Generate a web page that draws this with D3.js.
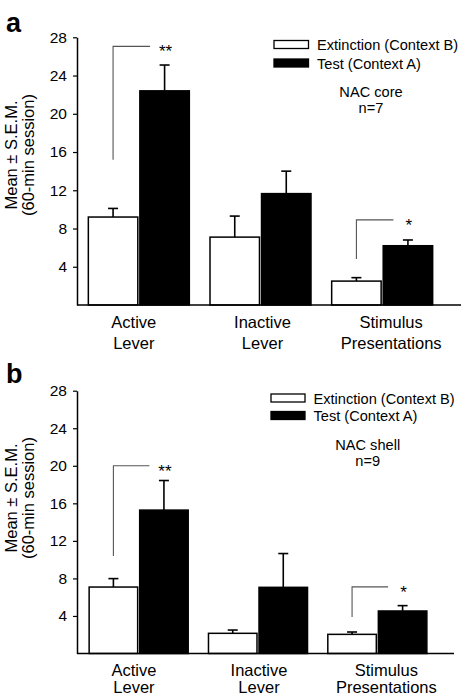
<!DOCTYPE html>
<html>
<head>
<meta charset="utf-8">
<script src="https://cdn.jsdelivr.net/npm/d3@7"></script>
<style>
  html, body { margin: 0; padding: 0; background: #fff; }
  svg { display: block; font-family: "Liberation Sans", Arial, Helvetica, sans-serif; }
</style>
</head>
<body>
<svg id="chart" width="462" height="697"></svg>
<script>
// ---------------- data ----------------
const categories = ["Active Lever", "Inactive Lever", "Stimulus Presentations"];
const categoryLines = [["Active", "Lever"], ["Inactive", "Lever"], ["Stimulus", "Presentations"]];
const seriesNames = ["Extinction (Context B)", "Test (Context A)"];
const yTicks = [4, 8, 12, 16, 20, 24, 28];

// Panel a: NAC core, n=7
const coreExtinction    = [9.2, 7.1, 2.5];
const coreExtinctionSEM = [0.9, 2.2, 0.36];
const coreTest          = [22.4, 11.65, 6.2];
const coreTestSEM       = [2.7, 2.35, 0.6];
const coreSigCategory   = ["Active Lever", "Stimulus Presentations"];
const coreSigLabel      = ["**", "*"];
const coreSigTop        = [27.05, 8.9];
const coreSigBottom     = [15.2, 4.8];

// Panel b: NAC shell, n=9
const shellExtinction    = [7.08, 2.15, 2.04];
const shellExtinctionSEM = [0.9, 0.35, 0.25];
const shellTest          = [15.28, 7.05, 4.53];
const shellTestSEM       = [3.15, 3.6, 0.57];
const shellSigCategory   = ["Active Lever", "Stimulus Presentations"];
const shellSigLabel      = ["**", "*"];
const shellSigTop        = [20.0, 7.1];
const shellSigBottom     = [10.4, 3.9];

// ---------------- drawing ----------------
const svg = d3.select("#chart");

function drawPanel(p) {
  const g = svg.append("g");
  const y = d3.scaleLinear().domain([0, 28]).range([p.y0, p.y28]);
  const x = d3.scaleBand().domain(categories).range(p.xRange)
    .paddingInner(0.17).paddingOuter(0.085);
  const xs = d3.scaleBand().domain(seriesNames).range([0, x.bandwidth()]).paddingInner(0.04);

  const rows = categories.map((c, i) => [
    { cat: c, s: seriesNames[0], v: p.ext[i], e: p.extSEM[i] },
    { cat: c, s: seriesNames[1], v: p.test[i], e: p.testSEM[i] }
  ]).flat();

  // panel letter
  g.append("text").attr("x", 6).attr("y", p.letterY)
    .attr("font-size", 27).attr("font-weight", "bold").text(p.letter);

  // error bars (upward only)
  const eb = g.append("g").attr("stroke", "#000").attr("stroke-width", 1.6);
  rows.forEach(d => {
    const cx = x(d.cat) + xs(d.s) + xs.bandwidth() / 2;
    eb.append("line").attr("x1", cx).attr("x2", cx).attr("y1", y(d.v)).attr("y2", y(d.v + d.e));
    eb.append("line").attr("x1", cx - 5).attr("x2", cx + 5).attr("y1", y(d.v + d.e)).attr("y2", y(d.v + d.e));
  });

  // bars
  g.append("g").selectAll("rect").data(rows).join("rect")
    .attr("x", d => x(d.cat) + xs(d.s))
    .attr("y", d => y(d.v))
    .attr("width", xs.bandwidth())
    .attr("height", d => y(0) - y(d.v))
    .attr("fill", d => d.s === seriesNames[0] ? "#fff" : "#000")
    .attr("stroke", "#000").attr("stroke-width", 1.5);

  // y axis
  const yAxis = d3.axisLeft(y).tickValues(yTicks).tickSize(4).tickPadding(6).tickSizeOuter(0);
  const ya = g.append("g").attr("transform", `translate(${p.axisX},0)`).call(yAxis);
  ya.select(".domain").attr("stroke-width", 1.5);
  ya.selectAll(".tick line").attr("stroke-width", 1.2);
  ya.selectAll(".tick text").attr("font-size", 15.5)
    .attr("font-family", "Liberation Sans, Arial, sans-serif").attr("fill", "#000");

  // x baseline
  g.append("line").attr("x1", p.axisX).attr("x2", p.xAxisEnd)
    .attr("y1", y(0)).attr("y2", y(0)).attr("stroke", "#000").attr("stroke-width", 1.5);

  // category labels
  categories.forEach((c, i) => {
    const cx = x(c) + x.bandwidth() / 2 + p.catShift[i];
    const t = g.append("text").attr("text-anchor", "middle").attr("font-size", 16.5);
    categoryLines[i].forEach((ln, j) => {
      t.append("tspan").attr("x", cx).attr("y", j === 0 ? p.catY1 : p.catY2).text(ln);
    });
  });

  // y label
  const yl = g.append("text").attr("text-anchor", "middle").attr("font-size", 16.5)
    .attr("transform", `translate(0,${p.yLabelC}) rotate(-90)`);
  yl.append("tspan").attr("x", 0).attr("y", 16.5).text("Mean \u00B1  S.E.M.");
  yl.append("tspan").attr("x", 0).attr("y", 34).text("(60-min session)");

  // significance brackets
  p.sigCat.forEach((c, i) => {
    const xe = x(c) + xs(seriesNames[0]) + xs.bandwidth() / 2;
    const xt = x(c) + xs(seriesNames[1]) + xs.bandwidth() / 2;
    const yt = y(p.sigTop[i]);
    g.append("path")
      .attr("d", `M${xe},${y(p.sigBottom[i])}V${yt}H${xt - 14.5}`)
      .attr("fill", "none").attr("stroke", "#555").attr("stroke-width", 1.1);
    g.append("text").attr("x", xt + 1).attr("y", yt + 11).attr("text-anchor", "middle")
      .attr("font-size", 17).text(p.sigLabel[i]);
  });

  // legend
  const lg = g.append("g");
  seriesNames.forEach((s, i) => {
    lg.append("rect").attr("x", p.legX).attr("y", p.legY + i * p.legStep)
      .attr("width", p.legW).attr("height", 8)
      .attr("fill", i === 0 ? "#fff" : "#000").attr("stroke", "#000").attr("stroke-width", 1.3);
    lg.append("text").attr("x", p.legX + p.legW + 8.5).attr("y", p.legY + i * p.legStep + 9.5)
      .attr("font-size", 14.6).text(s);
  });

  // annotation
  g.append("text").attr("x", p.noteX).attr("y", p.noteY).attr("text-anchor", "middle")
    .attr("font-size", 14.6).text(p.note1);
  g.append("text").attr("x", p.noteX).attr("y", p.noteY + 16).attr("text-anchor", "middle")
    .attr("font-size", 14.6).text(p.note2);
}

drawPanel({
  letter: "a", letterY: 31.5,
  ext: coreExtinction, extSEM: coreExtinctionSEM, test: coreTest, testSEM: coreTestSEM,
  sigCat: coreSigCategory, sigLabel: coreSigLabel, sigTop: coreSigTop, sigBottom: coreSigBottom,
  y0: 305, y28: 37.3, xRange: [78, 443], axisX: 77, xAxisEnd: 461,
  catY1: 327.5, catY2: 349, catShift: [-5, 2, 9], yLabelC: 155,
  legX: 274, legY: 40.5, legStep: 18.5, legW: 34.5,
  noteX: 371, noteY: 97, note1: "NAC core", note2: "n=7"
});

drawPanel({
  letter: "b", letterY: 382.5,
  ext: shellExtinction, extSEM: shellExtinctionSEM, test: shellTest, testSEM: shellTestSEM,
  sigCat: shellSigCategory, sigLabel: shellSigLabel, sigTop: shellSigTop, sigBottom: shellSigBottom,
  y0: 653.5, y28: 390.7, xRange: [79, 437], axisX: 77, xAxisEnd: 454,
  catY1: 675.5, catY2: 692.5, catShift: [-4.7, 1, 9], yLabelC: 498,
  legX: 271, legY: 394, legStep: 17.5, legW: 34,
  noteX: 367.7, noteY: 450, note1: "NAC shell", note2: "n=9"
});
</script>
</body>
</html>
